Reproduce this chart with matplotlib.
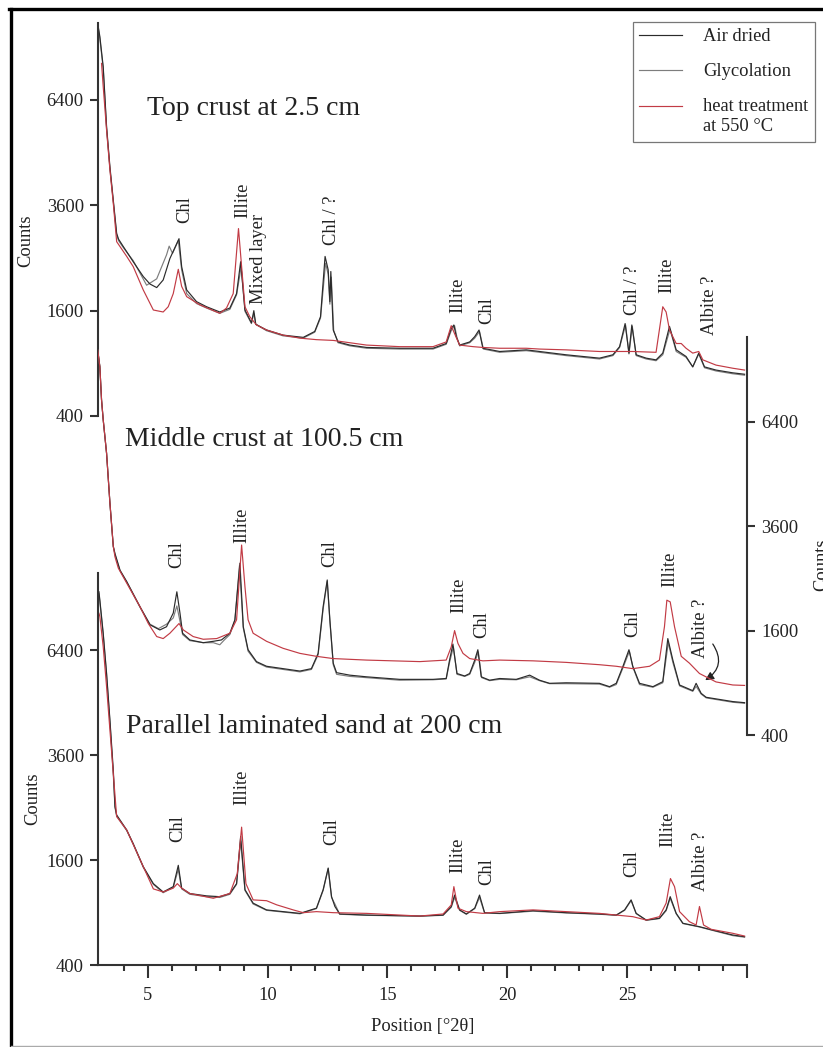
import numpy as np
import matplotlib
matplotlib.use("Agg")
import matplotlib.pyplot as plt
from matplotlib.lines import Line2D
from matplotlib.patches import FancyArrowPatch
from matplotlib.legend_handler import HandlerLine2D

plt.rcParams['font.family'] = ['Liberation Serif', 'DejaVu Serif']

# ---------------- diffraction patterns (position in degrees 2-theta, counts) ----------------
# Top crust at 2.5 cm
top_air_2t = [2.92, 3.01, 3.15, 3.29, 3.43, 3.57, 3.71, 3.79, 3.99, 4.40, 4.82, 5.10, 5.38, 5.65, 5.93,
              6.31, 6.42, 6.63, 7.04, 7.46, 8.01, 8.43, 8.71, 8.88, 9.06, 9.33, 9.43, 9.51, 9.96, 10.65,
              11.49, 11.97, 12.21, 12.40, 12.53, 12.60, 12.64, 12.74, 12.94, 13.43, 14.13, 15.51, 16.90,
              17.45, 17.66, 17.77, 17.87, 18.01, 18.43, 18.64, 18.82, 18.98, 19.68, 20.79, 21.34, 22.45,
              23.84, 24.40, 24.68, 24.91, 25.07, 25.19, 25.37, 25.79, 26.20, 26.48, 26.76, 27.04, 27.45,
              27.73, 27.98, 28.22, 28.70, 29.40, 29.89]
top_air_counts = [8940, 8470, 7450, 5620, 4530, 3720, 2990, 2870, 2720, 2430, 2160, 2030, 1970, 2100, 2490,
                  2880, 2340, 1930, 1740, 1660, 1580, 1640, 1870, 2430, 1610, 1420, 1600, 1400, 1320, 1250,
                  1220, 1300, 1510, 2530, 2280, 1740, 2250, 1320, 1160, 1120, 1090, 1080, 1080,
                  1140, 1340, 1390, 1230, 1120, 1160, 1230, 1320, 1080, 1040, 1060, 1040, 1000,
                  960, 1000, 1100, 1410, 1020, 1390, 1000, 960, 940, 1020, 1370, 1060, 980,
                  860, 1020, 860, 825, 795, 780]

top_gly_2t = [2.92, 3.01, 3.15, 3.29, 3.43, 3.57, 3.71, 3.79, 3.99, 4.40, 4.96, 5.38, 5.79, 5.90, 6.04,
              6.28, 6.42, 6.63, 7.04, 7.46, 8.01, 8.43, 8.71, 8.90, 9.06, 9.33, 9.43, 9.51, 9.96, 10.65,
              11.49, 11.97, 12.21, 12.42, 12.53, 12.60, 12.66, 12.76, 12.94, 13.43, 14.13, 15.51, 16.90,
              17.45, 17.66, 17.80, 17.90, 18.01, 18.43, 18.64, 18.84, 19.00, 19.68, 20.79, 21.34, 22.45,
              23.84, 24.40, 24.68, 24.93, 25.07, 25.21, 25.37, 25.79, 26.20, 26.48, 26.78, 27.04, 27.45,
              27.73, 27.98, 28.22, 28.70, 29.40, 29.89]
top_gly_counts = [8900, 8400, 7380, 5560, 4480, 3680, 2960, 2840, 2700, 2450, 2010, 2120, 2560, 2730, 2590,
                  2840, 2280, 1870, 1710, 1640, 1560, 1620, 1850, 2330, 1590, 1410, 1560, 1400, 1310, 1240,
                  1210, 1290, 1490, 2400, 2200, 1700, 2150, 1310, 1150, 1110, 1080, 1070, 1070,
                  1130, 1310, 1380, 1220, 1110, 1150, 1210, 1300, 1070, 1030, 1050, 1030, 990,
                  950, 990, 1090, 1390, 1010, 1370, 990, 950, 930, 1000, 1330, 1040, 970,
                  860, 1010, 850, 815, 785, 770]

top_heat_2t = [3.08, 3.15, 3.29, 3.43, 3.57, 3.71, 4.13, 4.40, 4.82, 5.24, 5.65, 5.86, 6.07, 6.28, 6.42,
               6.63, 7.18, 8.01, 8.29, 8.57, 8.79, 8.92, 9.06, 9.26, 9.54, 9.96, 10.65, 11.35, 12.04,
               12.74, 14.13, 15.51, 16.90, 17.45, 17.66, 17.80, 18.01, 18.57, 18.98, 19.68, 20.79, 21.34,
               22.45, 23.84, 25.23, 26.20, 26.48, 26.62, 26.76, 27.04, 27.25, 27.45, 27.73, 27.98, 28.15,
               28.70, 29.40, 29.89]
top_heat_counts = [7560, 6810, 5520, 4450, 3650, 2820, 2530, 2340, 1930, 1610, 1580, 1660, 1870, 2290, 1990,
                   1820, 1690, 1560, 1640, 1870, 3090, 2340, 1660, 1510, 1390, 1320, 1250, 1210, 1190,
                   1180, 1120, 1100, 1100, 1160, 1380, 1270, 1120, 1100, 1090, 1080, 1080, 1070,
                   1060, 1040, 1040, 1030, 1660, 1580, 1320, 1140, 1140, 1080, 1020, 1040, 940,
                   880, 845, 825]

# Middle crust at 100.5 cm
mid_air_2t = [2.92, 3.01, 3.08, 3.15, 3.29, 3.43, 3.57, 3.64, 3.85, 4.13, 4.68, 5.10, 5.51, 5.79, 6.07,
              6.22, 6.35, 6.46, 6.76, 7.32, 7.74, 8.08, 8.43, 8.64, 8.85, 8.99, 9.19, 9.54, 9.96, 10.65,
              11.35, 11.83, 12.11, 12.32, 12.49, 12.60, 12.74, 12.88, 13.43, 14.13, 15.51, 16.90, 17.45,
              17.59, 17.73, 17.90, 18.22, 18.43, 18.64, 18.77, 18.91, 19.26, 19.68, 20.37, 20.93, 21.34,
              21.76, 22.45, 23.84, 24.26, 24.54, 24.82, 25.07, 25.23, 25.51, 26.07, 26.48, 26.69, 26.90,
              27.18, 27.73, 27.87, 28.08, 28.29, 29.40, 29.89]
mid_air_counts = [8790, 8200, 7090, 6460, 5470, 4150, 3150, 3000, 2660, 2440, 1990, 1690, 1610, 1660, 1880,
                  2250, 1880, 1560, 1460, 1420, 1440, 1460, 1560, 1770, 2800, 1660, 1320, 1160, 1100, 1070,
                  1040, 1070, 1270, 1990, 2470, 1770, 1140, 1020, 990, 970, 940, 940, 950,
                  1180, 1400, 1010, 980, 1010, 1180, 1320, 970, 930, 950, 940, 990, 930,
                  894, 900, 894, 856, 894, 1100, 1320, 1100, 894, 856, 913, 1480, 1180,
                  875, 812, 894, 783, 741, 697, 686]

mid_gly_2t = [2.92, 3.01, 3.08, 3.15, 3.29, 3.43, 3.57, 3.64, 3.85, 4.13, 4.68, 5.10, 5.45, 5.79, 6.07,
              6.22, 6.35, 6.46, 6.76, 7.32, 7.74, 8.01, 8.20, 8.43, 8.64, 8.83, 8.99, 9.19, 9.54, 9.96,
              10.65, 11.35, 11.83, 12.11, 12.32, 12.49, 12.60, 12.74, 12.88, 13.43, 14.13, 15.51, 16.90,
              17.45, 17.59, 17.75, 17.90, 18.22, 18.43, 18.64, 18.79, 18.93, 19.26, 19.68, 20.37, 20.93,
              21.34, 21.76, 22.45, 23.84, 24.26, 24.54, 24.82, 25.09, 25.23, 25.51, 26.07, 26.48, 26.71,
              26.90, 27.18, 27.73, 27.87, 28.08, 28.29, 29.40, 29.89]
mid_gly_counts = [8790, 8200, 7090, 6460, 5470, 4150, 3150, 2980, 2650, 2430, 1980, 1700, 1630, 1700, 1800,
                  2000, 1750, 1540, 1450, 1420, 1420, 1390, 1460, 1540, 1760, 2750, 1640, 1300, 1150, 1090,
                  1060, 1030, 1060, 1250, 1950, 2440, 1750, 1120, 1000, 975, 960, 930, 935,
                  945, 1150, 1360, 1000, 975, 1000, 1150, 1290, 960, 925, 940, 935, 970,
                  925, 890, 890, 885, 850, 880, 1080, 1300, 1090, 880, 850, 900, 1420,
                  1150, 865, 805, 860, 775, 735, 690, 680]

mid_heat_2t = [2.92, 3.01, 3.08, 3.15, 3.29, 3.43, 3.57, 3.64, 3.78, 4.13, 4.68, 5.03, 5.38, 5.65, 5.93,
               6.31, 6.49, 6.90, 7.32, 7.88, 8.43, 8.71, 8.92, 9.06, 9.19, 9.40, 9.96, 10.65, 11.35, 12.04,
               12.74, 14.13, 16.35, 17.45, 17.66, 17.80, 17.94, 18.15, 18.43, 18.98, 19.68, 21.07, 22.45,
               23.84, 24.54, 25.23, 25.93, 26.34, 26.55, 26.65, 26.79, 26.97, 27.25, 27.59, 28.01, 28.70,
               29.40, 29.89]
mid_heat_counts = [8790, 8200, 7090, 6460, 5470, 4150, 3150, 2930, 2700, 2410, 1990, 1710, 1510, 1480, 1560,
                   1710, 1610, 1510, 1470, 1480, 1560, 1770, 3180, 2340, 1770, 1560, 1440, 1340, 1270, 1230,
                   1200, 1180, 1160, 1180, 1360, 1600, 1410, 1270, 1200, 1170, 1180, 1170, 1150,
                   1120, 1100, 1070, 1100, 1180, 1660, 2100, 2070, 1660, 1230, 1140, 1010, 910,
                   875, 870]

# Parallel laminated sand at 200 cm
bot_air_2t = [2.97, 3.01, 3.15, 3.29, 3.43, 3.57, 3.64, 3.71, 4.13, 4.40, 4.82, 5.24, 5.65, 6.07, 6.28,
              6.42, 6.76, 7.46, 8.01, 8.43, 8.71, 8.88, 9.06, 9.40, 9.96, 10.65, 11.35, 12.04, 12.32, 12.53,
              12.67, 12.81, 13.01, 14.13, 16.35, 17.32, 17.66, 17.80, 18.01, 18.29, 18.64, 18.84, 19.05,
              19.68, 21.07, 22.45, 23.84, 24.54, 24.89, 25.16, 25.37, 25.79, 26.34, 26.62, 26.79, 27.04,
              27.32, 28.01, 28.43, 29.40, 29.89]
bot_air_counts = [8300, 8010, 6920, 5710, 4440, 3270, 2520, 2360, 2090, 1860, 1500, 1260, 1150, 1220, 1520,
                  1200, 1130, 1100, 1090, 1130, 1260, 1980, 1180, 1010, 930, 910, 890, 950, 1180, 1480,
                  1090, 970, 883, 871, 860, 871, 970, 1110, 930, 883, 950, 1110, 898,
                  890, 921, 898, 883, 871, 930, 1050, 890, 816, 835, 930, 1090, 890,
                  781, 745, 718, 661, 645]

bot_gly_2t = [2.97, 3.01, 3.15, 3.29, 3.43, 3.57, 3.64, 3.71, 4.13, 4.40, 4.82, 5.24, 5.65, 6.07, 6.28,
              6.42, 6.76, 7.46, 8.01, 8.43, 8.71, 8.88, 9.06, 9.40, 9.96, 10.65, 11.35, 12.04, 12.32, 12.53,
              12.67, 12.81, 13.01, 14.13, 16.35, 17.32, 17.66, 17.80, 18.01, 18.29, 18.64, 18.84, 19.05,
              19.68, 21.07, 22.45, 23.84, 24.54, 24.89, 25.16, 25.37, 25.79, 26.34, 26.62, 26.79, 27.04,
              27.32, 28.01, 28.43, 29.40, 29.89]
bot_gly_counts = [8250, 7950, 6870, 5660, 4400, 3170, 2500, 2340, 2080, 1850, 1490, 1250, 1140, 1210, 1460,
                  1190, 1120, 1090, 1080, 1120, 1250, 1900, 1170, 1000, 925, 905, 885, 945, 1170, 1470,
                  1080, 1000, 880, 868, 858, 868, 960, 1080, 925, 880, 945, 1080, 895,
                  888, 915, 895, 880, 868, 925, 1040, 888, 812, 832, 920, 1070, 885,
                  778, 742, 715, 655, 640]

bot_heat_2t = [2.97, 3.01, 3.15, 3.29, 3.43, 3.57, 3.71, 4.13, 4.82, 5.24, 5.65, 6.07, 6.24, 6.42, 6.76,
               7.74, 8.43, 8.74, 8.92, 9.10, 9.40, 9.96, 10.38, 11.07, 11.49, 12.04, 12.74, 14.13, 16.35,
               17.32, 17.66, 17.77, 17.94, 18.29, 18.98, 19.68, 21.07, 22.45, 23.84, 24.54, 25.23, 25.79,
               26.34, 26.62, 26.80, 26.97, 27.18, 27.59, 27.87, 28.01, 28.18, 28.50, 29.40, 29.89]
bot_heat_counts = [7570, 7460, 6500, 5330, 4190, 3190, 2330, 2090, 1500, 1190, 1150, 1200, 1260, 1200, 1130,
                   1070, 1130, 1400, 2140, 1260, 1050, 1040, 990, 930, 898, 910, 898, 890, 860,
                   883, 988, 1220, 950, 910, 890, 910, 930, 910, 890, 871, 853, 816,
                   853, 1010, 1330, 1220, 910, 798, 763, 970, 763, 718, 678, 651]

# Peak identifications: (label, 2-theta, counts at the foot of the label)
top_peaks = [("Chl", 6.55, 3200), ("Illite", 8.95, 3310), ("Mixed layer", 9.64, 1710),
             ("Chl / ?", 12.68, 2750), ("Illite", 17.93, 1560), ("Chl", 19.14, 1410),
             ("Chl / ?", 25.20, 1540), ("Illite", 26.64, 1880), ("Albite ?", 28.43, 1250)]
mid_peaks = [("Chl", 6.22, 2700), ("Illite", 8.93, 3230), ("Chl", 12.60, 2720),
             ("Illite", 17.97, 1880), ("Chl", 18.93, 1490), ("Chl", 25.22, 1500),
             ("Illite", 26.76, 2340), ("Albite ?", 28.05, 1210)]
bot_peaks = [("Chl", 6.26, 1880), ("Illite", 8.93, 2550), ("Chl", 12.68, 1840),
             ("Illite", 17.93, 1410), ("Chl", 19.16, 1240), ("Chl", 25.20, 1350),
             ("Illite", 26.68, 1810), ("Albite ?", 28.05, 1160)]

panel_titles = ["Top crust at 2.5 cm", "Middle crust at 100.5 cm", "Parallel laminated sand at 200 cm"]
title_anchor = [(4.97, 6150), (4.05, 5880), (4.10, 4290)]

series_labels = ["Air dried", "Glycolation", "heat treatment\nat 550 °C"]
count_ticks = [400, 1600, 3600, 6400]
x_major = [5, 10, 15, 20, 25, 30]
x_major_labels = ["5", "10", "15", "20", "25", ""]
x_minor = [4, 6, 7, 8, 9, 11, 12, 13, 14, 16, 17, 18, 19, 21, 22, 23, 24, 26, 27, 28, 29]

# ---------------- styling ----------------
C_AIR = "#2b2b2b"
C_GLY = "#7d7d7d"
C_HEAT = "#c23b45"
C_AX = "#333333"
C_TXT = "#222222"
FS = 13.3
LW = 0.85

W, H = 823, 1047
fig = plt.figure(figsize=(W / 100, H / 100), dpi=100)


def box(left, top, right, bottom):
    return [left / W, 1 - bottom / H, (right - left) / W, (bottom - top) / H]


def sqrt_scale(ax):
    ax.set_yscale('function', functions=(lambda v: np.sqrt(np.clip(v, 0, None)), lambda v: np.square(v)))


class FirstLineHandler(HandlerLine2D):
    """Legend line drawn level with the first line of a two-line label."""

    def __init__(self, shift, **kw):
        super().__init__(**kw)
        self.shift = shift

    def create_artists(self, legend, orig_handle, xdescent, ydescent, width, height, fontsize, trans):
        arts = super().create_artists(legend, orig_handle, xdescent, ydescent, width, height, fontsize, trans)
        for a in arts:
            a.set_ydata(np.asarray(a.get_ydata()) + self.shift)
        return arts


X_LEFT, X_RIGHT = 97.7, 747.2
ax_top = fig.add_axes(box(X_LEFT, 8.0, X_RIGHT, 416.0))
ax_mid = fig.add_axes(box(X_LEFT, 330.6, X_RIGHT, 735.0))
ax_bot = fig.add_axes(box(X_LEFT, 558.3, X_RIGHT, 965.0))

panels = [
    (ax_top, (top_air_2t, top_air_counts), (top_gly_2t, top_gly_counts), (top_heat_2t, top_heat_counts), top_peaks),
    (ax_mid, (mid_air_2t, mid_air_counts), (mid_gly_2t, mid_gly_counts), (mid_heat_2t, mid_heat_counts), mid_peaks),
    (ax_bot, (bot_air_2t, bot_air_counts), (bot_gly_2t, bot_gly_counts), (bot_heat_2t, bot_heat_counts), bot_peaks),
]

handles = []
for i, (ax, air, gly, heat, peaks) in enumerate(panels):
    ax.patch.set_visible(False)
    sqrt_scale(ax)
    ax.set_xlim(2.92, 30)
    ax.set_ylim(400, 9500)
    h_gly, = ax.plot(gly[0], gly[1], color=C_GLY, lw=LW)
    h_air, = ax.plot(air[0], air[1], color=C_AIR, lw=LW)
    h_heat, = ax.plot(heat[0], heat[1], color=C_HEAT, lw=LW)
    if i == 0:
        handles = [h_air, h_gly, h_heat]
    for lab, xx, yy in peaks:
        ax.text(xx, yy, lab, rotation=90, ha='center', va='bottom', fontsize=FS, color=C_TXT)
    ax.text(title_anchor[i][0], title_anchor[i][1], panel_titles[i], ha='left', va='center',
            fontsize=20, color=C_TXT)
    for s in ax.spines.values():
        s.set_visible(False)
        s.set_color(C_AX)
        s.set_linewidth(1.5)
    ax.set_yticks(count_ticks)
    ax.set_yticklabels([str(t) for t in count_ticks])
    ax.tick_params(axis='y', which='major', direction='out', length=6, width=1.5, color=C_AX,
                   labelsize=FS, pad=4, labelcolor=C_TXT)
    ax.yaxis.set_minor_locator(matplotlib.ticker.NullLocator())
    ax.set_xticks([])

# top panel: left count axis
ax_top.spines['left'].set_visible(True)
ax_top.spines['left'].set_bounds(400, 8940)
ax_top.set_ylabel("Counts", fontsize=FS, color=C_TXT)
ax_top.yaxis.set_label_coords(-0.098, 0.43)

# middle panel: right count axis
ax_mid.spines['right'].set_visible(True)
ax_mid.spines['right'].set_bounds(400, 9250)
ax_mid.yaxis.set_label_position('right')
ax_mid.yaxis.tick_right()
ax_mid.tick_params(axis='y', which='major', direction='out', length=6, width=1.5, color=C_AX,
                   labelsize=FS, pad=4, right=True, left=False, labelright=True, labelleft=False)
ax_mid.set_ylabel("Counts", fontsize=FS, color=C_TXT)
ax_mid.yaxis.set_label_coords(1.101, 0.42)

# the albite reflection marker in the middle pattern
ax_mid.add_patch(FancyArrowPatch((28.50, 1434), (28.15, 913), connectionstyle="arc3,rad=-0.55",
                                 arrowstyle="-|>,head_length=5,head_width=2.5", color=C_TXT, lw=0.9,
                                 mutation_scale=1))

# bottom panel: left count axis and the position axis
ax_bot.spines['left'].set_visible(True)
ax_bot.spines['left'].set_bounds(400, 8970)
ax_bot.spines['bottom'].set_visible(True)
ax_bot.set_ylabel("Counts", fontsize=FS, color=C_TXT)
ax_bot.yaxis.set_label_coords(-0.087, 0.41)
ax_bot.set_xticks(x_major)
ax_bot.set_xticklabels(x_major_labels)
ax_bot.set_xticks(x_minor, minor=True)
ax_bot.tick_params(axis='x', which='major', direction='out', length=9.5, width=1.5, color=C_AX,
                   labelsize=FS, pad=6.5, labelcolor=C_TXT)
ax_bot.tick_params(axis='x', which='minor', direction='out', length=4.5, width=1.5, color=C_AX)
ax_bot.set_xlabel("Position [°2θ]", fontsize=FS, color=C_TXT, labelpad=10)

# legend
leg = fig.legend(handles, series_labels, loc='upper left', bbox_to_anchor=(632.7 / W, 1 - 21.5 / H),
                 frameon=True, fancybox=False, fontsize=FS, handlelength=2.3, handletextpad=1.15,
                 borderpad=0.36, labelspacing=0.98, borderaxespad=0,
                 handler_map={handles[2]: FirstLineHandler(7.5)})
leg.get_frame().set_edgecolor('#555555')
leg.get_frame().set_linewidth(0.9)
for t in leg.get_texts():
    t.set_color(C_TXT)

# page frame
fig.add_artist(Line2D([10.5 / W, 10.5 / W], [1 - 8.5 / H, 1 - 1046 / H], transform=fig.transFigure,
                      color='black', lw=2.4))
fig.add_artist(Line2D([9.3 / W, 1.0], [1 - 8.5 / H, 1 - 8.5 / H], transform=fig.transFigure,
                      color='black', lw=2.4))
fig.add_artist(Line2D([10.5 / W, 1.0], [1 - 1046 / H, 1 - 1046 / H], transform=fig.transFigure,
                      color='#aaaaaa', lw=1.0))

fig.savefig("out.png", dpi=100)
